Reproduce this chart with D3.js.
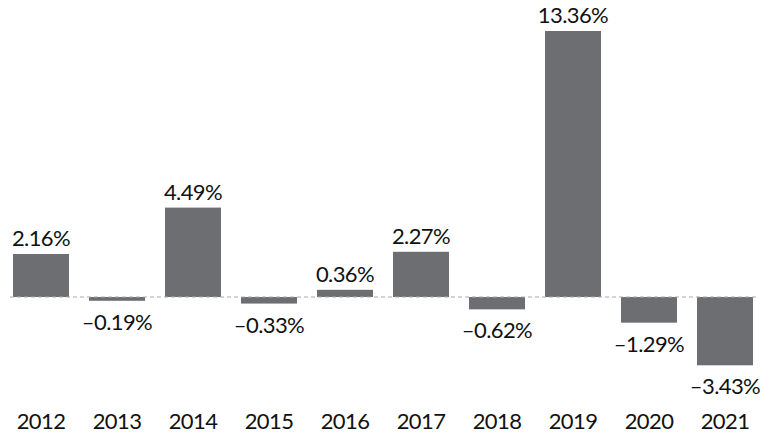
<!DOCTYPE html>
<html><head><meta charset="utf-8">
<script src="https://cdn.jsdelivr.net/npm/d3@7"></script>
<style>body{margin:0;background:#fff}svg{display:block}</style>
</head><body>
<svg id="c" width="769" height="433"></svg>
<script>
const years = ["2012","2013","2014","2015","2016","2017","2018","2019","2020","2021"];
const values = [2.16,-0.19,4.49,-0.33,0.36,2.27,-0.62,13.36,-1.29,-3.43];
const labels = ["2.16%","\u20130.19%","4.49%","\u20130.33%","0.36%","2.27%","\u20130.62%","13.36%","\u20131.29%","\u20133.43%"];

const svg = d3.select("#c");
const font = "'Lato','Noto Sans',sans-serif";
const x = d3.scaleBand().domain(years).range([3,763]).paddingInner(20/76).paddingOuter(10/76);
const y = d3.scaleLinear().domain([0,13.36]).range([297,31]);

svg.selectAll("rect.bar").data(values).join("rect")
  .attr("x",(d,i)=>x(years[i]))
  .attr("width",x.bandwidth())
  .attr("y",d=>Math.min(y(d),y(0)))
  .attr("height",d=>Math.abs(y(d)-y(0)))
  .attr("fill","#6d6e71");

svg.append("line").attr("x1",10).attr("x2",758).attr("y1",y(0)).attr("y2",y(0))
  .attr("stroke","#aaaaaa").attr("stroke-width",1.2).attr("stroke-dasharray","4,3");

svg.selectAll("text.val").data(values).join("text")
  .attr("x",(d,i)=>x(years[i])+x.bandwidth()/2)
  .attr("y",d=>d>=0?y(d)-8:y(d)+29)
  .attr("text-anchor","middle").attr("font-family",font).attr("font-size",22)
  .attr("letter-spacing","-0.6px")
  .attr("fill","#111").text((d,i)=>labels[i]);

const xAxis = d3.axisBottom(x).tickSize(0).tickPadding(0);
const g = svg.append("g").attr("transform","translate(0,0)").call(xAxis);
g.select(".domain").remove();
g.selectAll("text").attr("font-family",font).attr("font-size",22).attr("letter-spacing","-0.6px")
  .attr("fill","#111").attr("dy",null).attr("y",429);
</script>
</body></html>
